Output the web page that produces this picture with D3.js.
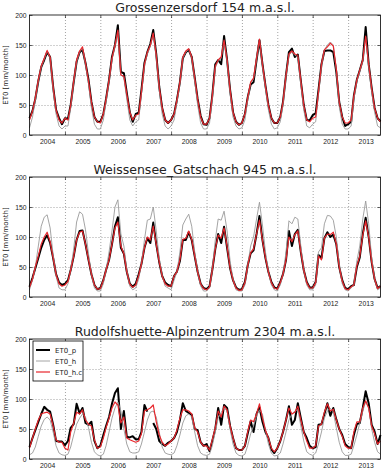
<!DOCTYPE html>
<html>
<head>
<meta charset="utf-8">
<script src="https://cdn.jsdelivr.net/npm/d3@7"></script>
<style>
  body { margin: 0; background: #fff; }
  svg { font-family: "DejaVu Sans", sans-serif; }
  .grid line { stroke: #666; stroke-dasharray: 1,2; stroke-width: 0.6; }
  .grid path { display: none; }
  .ticks path { display: none; }
  .ticks line { stroke: #000; stroke-width: 0.6; }
  .ticks text { font-size: 6.8px; fill: #222; }
</style>
</head>
<body>
<svg id="chart"></svg>
<script>
// monthly ET0 values [mm/month], Jan 2004 .. Dec 2013
const titles = ["Grossenzersdorf 154 m.a.s.l.", "Weissensee_Gatschach 945 m.a.s.l.", "Rudolfshuette-Alpinzentrum 2304 m.a.s.l."]
const seriesNames = ["ET0_p", "ET0_h", "ET0_h.c"]
const yearLabels = ["2004","2005","2006","2007","2008","2009","2010","2011","2012","2013"]
const yTicks = [0, 50, 100, 150, 200]

const grossP = [
  28,40,60,90,113,125,138,130,80,42,28,18,
  28,27,50,88,122,138,142,120,92,55,30,22,
  22,35,60,92,130,150,183,105,103,70,38,22,
  35,37,75,120,138,152,175,135,80,45,25,20,
  25,35,58,88,128,138,142,130,95,60,32,18,
  17,28,65,118,125,118,165,125,75,38,22,17,
  20,35,62,84,88,125,158,118,82,50,28,20,
  20,30,55,100,138,144,130,134,90,50,25,24,
  33,36,75,118,140,141,141,138,105,55,30,15,
  18,22,65,92,108,125,180,118,78,45,28,23
]
const grossH = [
  12,30,58,90,113,126,140,128,75,35,15,10,
  15,15,45,88,122,138,145,118,85,45,18,10,
  10,25,55,90,125,148,172,100,95,60,25,15,
  22,25,68,115,135,148,168,130,75,35,15,10,
  15,25,55,85,128,138,143,128,90,50,20,10,
  10,20,60,112,123,128,155,122,70,30,15,10,
  12,25,58,86,93,126,158,115,78,42,18,10,
  12,22,50,98,133,138,133,130,85,42,15,12,
  18,22,68,115,142,150,155,150,108,48,18,10,
  10,15,60,90,106,123,163,115,72,38,15,12
]
const grossHc = [
  25,40,62,92,115,128,141,130,80,42,25,20,
  28,25,50,90,125,140,147,120,90,55,30,22,
  20,35,60,92,128,150,175,100,98,68,38,25,
  33,35,72,118,138,150,170,133,80,45,25,20,
  25,35,58,88,130,140,144,130,95,60,30,18,
  18,28,65,115,125,130,158,125,75,38,22,17,
  20,35,62,88,95,128,160,118,82,50,28,20,
  20,30,55,100,135,140,135,133,90,50,25,22,
  28,30,72,118,142,147,153,148,110,55,30,20,
  20,25,65,92,108,125,165,118,78,45,28,22
]

const weissP = [
  17,32,48,65,82,95,103,90,65,38,24,20,
  22,28,45,68,95,110,111,88,62,38,20,13,
  15,28,45,62,88,118,133,82,72,42,22,17,
  22,38,55,82,98,90,124,88,58,35,24,20,
  18,35,42,60,95,95,108,95,68,42,22,15,
  13,18,45,80,105,90,117,82,48,28,16,12,
  13,25,52,73,78,105,135,95,65,42,25,16,
  14,25,38,62,110,85,105,112,75,45,25,16,
  16,25,70,65,98,108,100,104,88,50,28,15,
  13,18,20,50,66,105,132,100,58,30,15,18
]
const weissH = [
  12,28,50,85,118,133,137,115,70,35,15,12,
  12,22,45,80,125,142,138,112,72,38,15,10,
  10,22,45,75,110,150,162,105,85,45,18,12,
  15,30,55,95,128,130,150,110,65,35,18,15,
  12,28,42,75,120,130,138,118,75,42,18,10,
  10,15,45,95,130,128,143,110,60,30,12,10,
  10,20,52,85,100,130,158,120,75,42,20,12,
  10,20,38,75,127,122,133,130,85,45,20,12,
  12,20,75,82,122,136,135,128,100,55,22,12,
  10,15,20,60,85,130,160,122,65,30,12,15
]
const weissHc = [
  16,30,50,68,88,100,108,92,65,38,22,18,
  20,26,45,68,95,108,110,88,62,38,20,13,
  14,28,45,62,88,115,125,85,72,42,22,16,
  20,36,55,82,100,95,118,88,58,35,22,18,
  18,35,42,62,96,98,110,96,68,42,22,14,
  12,17,45,80,103,98,115,84,48,28,15,11,
  12,24,52,74,80,105,128,95,65,42,24,15,
  13,24,38,62,100,92,104,110,75,45,24,15,
  15,24,68,62,98,105,104,108,88,50,27,14,
  12,17,20,52,68,103,127,100,58,30,14,18
]

const rudolfP = [
  20,35,48,62,75,87,82,79,57,30,29,29,
  23,30,52,58,92,76,85,60,57,62,30,18,
  22,40,55,70,92,110,118,50,80,37,36,38,
  33,33,45,90,79,null,60,50,30,25,22,27,
  30,35,45,65,93,80,77,74,50,48,28,22,
  25,13,30,50,85,57,90,85,55,35,18,15,
  15,22,42,63,45,75,86,62,45,35,16,10,
  18,30,45,65,88,57,65,93,68,45,35,22,
  18,20,57,58,75,93,72,85,66,50,40,25,
  20,18,40,58,60,85,113,93,57,46,25,40
]
const rudolfH = [
  7,10,20,38,55,66,70,65,45,22,10,7,
  6,8,20,40,58,68,75,70,52,28,12,7,
  5,8,22,45,68,85,95,80,50,25,12,10,
  10,12,25,45,65,78,80,70,45,20,10,8,
  7,10,22,40,60,72,75,70,45,22,10,7,
  6,8,22,45,68,78,85,80,50,25,10,6,
  5,8,22,42,55,72,82,75,48,25,10,5,
  6,10,25,45,65,75,80,82,55,30,12,8,
  6,10,25,45,68,80,85,78,52,28,12,6,
  6,8,22,40,60,80,95,85,50,28,12,8
]
const rudolfHc = [
  18,35,50,65,75,77,78,75,55,32,28,28,
  18,15,45,60,78,75,82,65,58,55,32,18,
  20,35,52,68,85,95,90,60,70,35,32,30,
  28,30,42,80,82,85,90,62,40,28,22,25,
  30,35,48,68,82,82,80,75,52,45,28,22,
  22,15,32,52,80,70,88,82,55,35,18,15,
  15,22,45,65,62,75,92,68,48,35,18,12,
  18,30,45,65,85,75,78,88,65,45,30,18,
  18,22,55,58,78,92,80,83,65,50,38,22,
  18,18,45,62,62,85,97,85,55,42,25,30
]

const panels = [
  [grossP, grossH, grossHc],
  [weissP, weissH, weissHc],
  [rudolfP, rudolfH, rudolfHc]
]

const width = 389, height = 474
const left = 29.5, right = 380.5, panelH = 120
const panelTop = [15, 177, 339]
const colors = ['#000000', '#9a9a9a', '#e8262c']
const widths = [2, 0.9, 1.2]

const months = d3.range(120).map(i => new Date(2004, i, 1))

const svg = d3.select('#chart')
  .attr('width', width)
  .attr('height', height)

const x = d3.scaleTime()
  .domain([months[0], months[months.length - 1]])
  .range([left, right])

const yearStarts = yearLabels.slice(1).map(s => new Date(+s, 0, 1))
const yearMids = yearLabels.map(s => new Date(+s, 6, 1))

panels.forEach((series, p) => {
  const top = panelTop[p]
  const y = d3.scaleLinear().domain([0, 200]).range([top + panelH, top])
  const g = svg.append('g')

  // grid
  g.append('g').attr('class', 'grid')
    .attr('transform', `translate(0,${top + panelH})`)
    .call(d3.axisBottom(x).tickValues(yearStarts).tickSize(-panelH).tickFormat(''))
  g.append('g').attr('class', 'grid')
    .attr('transform', `translate(${left},0)`)
    .call(d3.axisLeft(y).tickValues([50, 100, 150]).tickSize(-(right - left)).tickFormat(''))

  // tick marks (inward) and labels
  g.append('g').attr('class', 'ticks')
    .attr('transform', `translate(0,${top + panelH})`)
    .call(d3.axisBottom(x).tickValues(yearStarts).tickSize(-3).tickFormat(''))
  g.append('g').attr('class', 'ticks')
    .attr('transform', `translate(0,${top})`)
    .call(d3.axisTop(x).tickValues(yearStarts).tickSize(-3).tickFormat(''))
  g.append('g').attr('class', 'ticks')
    .attr('transform', `translate(0,${top + panelH})`)
    .call(d3.axisBottom(x).tickValues(yearMids).tickSize(0).tickPadding(4)
      .tickFormat((d, i) => yearLabels[i]))
  g.append('g').attr('class', 'ticks')
    .attr('transform', `translate(${left},0)`)
    .call(d3.axisLeft(y).tickValues(yTicks).tickSize(-3).tickPadding(3))
  g.append('g').attr('class', 'ticks')
    .attr('transform', `translate(${right},0)`)
    .call(d3.axisRight(y).tickValues(yTicks).tickSize(-3).tickFormat(''))

  // lines
  const line = d3.line()
    .defined(d => d != null)
    .x((d, i) => x(months[i]))
    .y(d => y(d))

  series.forEach((vals, s) => {
    g.append('path')
      .datum(vals)
      .attr('fill', 'none')
      .attr('stroke', colors[s])
      .attr('stroke-width', widths[s])
      .attr('stroke-linejoin', 'round')
      .attr('d', line)
  })

  // frame
  g.append('rect')
    .attr('x', left).attr('y', top)
    .attr('width', right - left).attr('height', panelH)
    .attr('fill', 'none').attr('stroke', '#000').attr('stroke-width', 0.8)

  // title
  g.append('text')
    .attr('x', (left + right) / 2).attr('y', top - 3.5)
    .attr('text-anchor', 'middle')
    .style('font-size', '12.5px').style('fill', '#222')
    .text(titles[p])

  // y label
  g.append('text')
    .attr('transform', `translate(7.5,${top + panelH / 2}) rotate(-90)`)
    .attr('text-anchor', 'middle')
    .style('font-size', '7px').style('fill', '#222')
    .text('ET0 [mm/month]')

  if (p === 2) {
    const lg = g.append('g').attr('transform', `translate(33,${top + 2})`)
    lg.append('rect')
      .attr('width', 50).attr('height', 40)
      .attr('fill', '#fff').attr('stroke', '#000').attr('stroke-width', 0.8)
    seriesNames.forEach((name, s) => {
      const yy = 9 + s * 11
      lg.append('line')
        .attr('x1', 3).attr('x2', 17).attr('y1', yy).attr('y2', yy)
        .attr('stroke', colors[s]).attr('stroke-width', widths[s])
      lg.append('text')
        .attr('x', 22).attr('y', yy + 2.5)
        .style('font-size', '7px').style('fill', '#222')
        .text(name)
    })
  }
})
</script>
</body>
</html>
